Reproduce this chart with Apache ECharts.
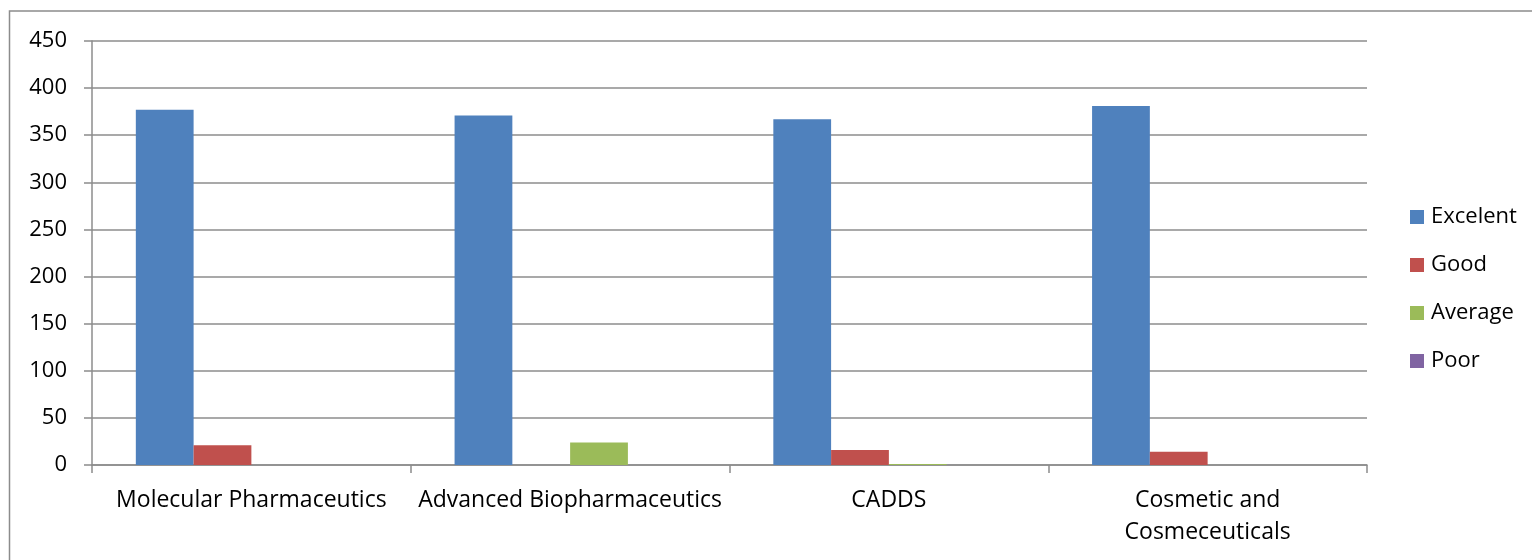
<!DOCTYPE html>
<html>
<head>
<meta charset="utf-8">
<script src="https://cdn.jsdelivr.net/npm/echarts@6/dist/echarts.min.js"></script>
<style>
* { margin: 0; padding: 0; box-sizing: border-box; }
body { background: #fff; overflow: hidden; }
#chart { width: 1532px; height: 560px; }
</style>
</head>
<body>
<div id="chart"></div>
<script>
const categories = ['Molecular Pharmaceutics', 'Advanced Biopharmaceutics', 'CADDS', 'Cosmetic and\nCosmeceuticals']
const seriesNames = ['Excelent', 'Good', 'Average', 'Poor']
const excelent = [377, 371, 367, 381]
const good = [21, 0, 16, 14]
const average = [0, 24, 1, 0]
const poor = [0, 0, 0, 0]
const colors = ['#4F81BD', '#C0504D', '#9BBB59', '#8064A2']

const font = '"Open Sans", sans-serif'
const gray = '#8c8c8c'

const chart = echarts.init(document.getElementById('chart'))
chart.setOption({
  animation: false,
  backgroundColor: '#fff',
  color: colors,
  textStyle: { fontFamily: font },
  graphic: [{
    type: 'rect',
    shape: { x: 9.5, y: 11, width: 3000, height: 3000 },
    style: { fill: 'none', stroke: gray, lineWidth: 1.5 },
    silent: true
  }],
  grid: { left: 92, right: 165, top: 41, bottom: 95, containLabel: false },
  legend: {
    orient: 'vertical',
    left: 1405,
    top: 201,
    itemWidth: 14,
    itemHeight: 14,
    itemGap: 26,
    icon: 'rect',
    textStyle: { fontSize: 22, color: '#000', fontFamily: font, padding: [0, 0, 0, 2] },
    data: seriesNames
  },
  xAxis: {
    type: 'category',
    data: categories,
    axisLine: { lineStyle: { color: gray, width: 1.5 } },
    axisTick: { show: true, length: 8, lineStyle: { color: gray, width: 1.5 } },
    axisLabel: { color: '#000', fontSize: 23, margin: 19, lineHeight: 32, interval: 0, fontFamily: font }
  },
  yAxis: {
    type: 'value',
    min: 0,
    max: 450,
    interval: 50,
    axisLine: { show: true, lineStyle: { color: gray, width: 1.5 } },
    axisTick: { show: true, length: 8, lineStyle: { color: gray, width: 1.5 } },
    axisLabel: { color: '#000', fontSize: 22, margin: 25, fontFamily: font },
    splitLine: { lineStyle: { color: gray, width: 1.5 } }
  },
  series: [
    { name: seriesNames[0], type: 'bar', data: excelent, barGap: '0%', barCategoryGap: '27.5%' },
    { name: seriesNames[1], type: 'bar', data: good },
    { name: seriesNames[2], type: 'bar', data: average },
    { name: seriesNames[3], type: 'bar', data: poor }
  ]
})
</script>
</body>
</html>
